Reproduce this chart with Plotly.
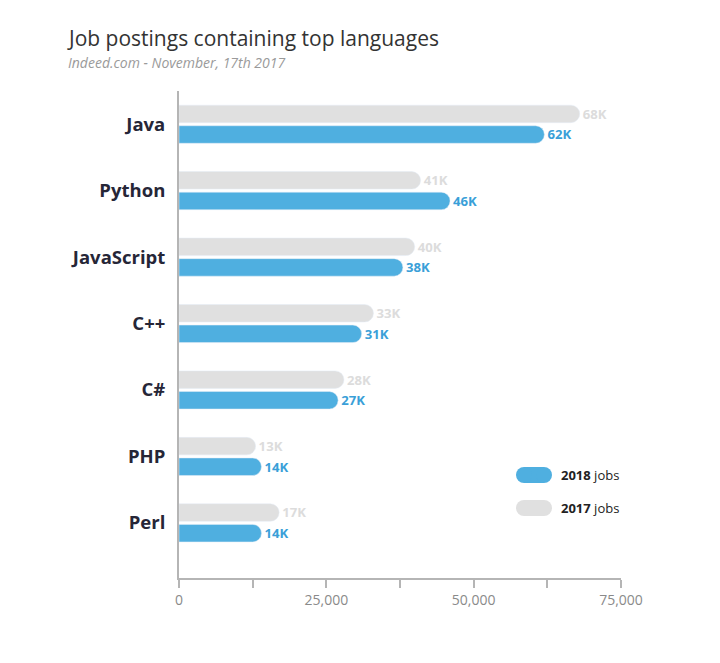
import plotly.graph_objects as go

languages = ["Java", "Python", "JavaScript", "C++", "C#", "PHP", "Perl"]
jobs_2017 = [68000, 41000, 40000, 33000, 28000, 13000, 17000]
jobs_2018 = [62000, 46000, 38000, 31000, 27000, 14000, 14000]
labels_2017 = ["68K", "41K", "40K", "33K", "28K", "13K", "17K"]
labels_2018 = ["62K", "46K", "38K", "31K", "27K", "14K", "14K"]
tick_vals = [0, 12500, 25000, 37500, 50000, 62500, 75000]
tick_text = ["0", "", "25,000", "", "50,000", "", "75,000"]

BLUE = "#4fafe0"
GRAY = "#e0e0e0"
FONT = "Open Sans"

# page body has an 8px offset; plot area in reference: x 179..621, y 91..578
OFF = 8
L, R, T, B = 179 - OFF, 621 - OFF, 91 - OFF, 578 - OFF
PW, PH = R - L, B - T


def px(x):
    return (x - OFF - L) / PW


def py(y):
    return 1 - (y - OFF - T) / PH


fig = go.Figure()
fig.add_trace(go.Bar(
    y=languages, x=jobs_2017, orientation="h", name="2017 jobs",
    marker=dict(color=GRAY), text=labels_2017, textposition="outside",
    texttemplate="<b>%{text}</b>",
    textfont=dict(color="#dcdcdc", size=13.5, family=FONT), cliponaxis=False,
))
fig.add_trace(go.Bar(
    y=languages, x=jobs_2018, orientation="h", name="2018 jobs",
    marker=dict(color=BLUE), text=labels_2018, textposition="outside",
    texttemplate="<b>%{text}</b>",
    textfont=dict(color="#3a9fd8", size=13.5, family=FONT), cliponaxis=False,
))

fig.update_layout(
    width=720, height=663,
    margin=dict(l=L, r=720 - R, t=T, b=663 - B),
    paper_bgcolor="white", plot_bgcolor="white",
    barmode="group", bargap=0.38, bargroupgap=0.15, barcornerradius=9,
    showlegend=False,
    font=dict(family=FONT),
    xaxis=dict(
        range=[0, 75000], tickvals=tick_vals, ticktext=tick_text,
        showgrid=False, zeroline=False, showline=True, linecolor="#b5b5b5", linewidth=1.5,
        ticks="outside", ticklen=8, tickcolor="#b5b5b5", tickwidth=1.5,
        tickfont=dict(color="#8a8a8a", size=14, family=FONT),
    ),
    yaxis=dict(
        categoryorder="array", categoryarray=languages,
        range=[6.83, -0.5],
        showgrid=False, zeroline=False, showline=True, linecolor="#b5b5b5", linewidth=2,
        ticks="", ticklabelstandoff=8,
        tickfont=dict(color="#262637", size=18.5, family=FONT, weight="bold"),
    ),
)

fig.add_annotation(text="Job postings containing top languages", xref="paper", yref="paper",
                   x=px(65), y=py(38), xanchor="left", yanchor="middle",
                   showarrow=False, font=dict(size=21, color="#333333", family=FONT))
fig.add_annotation(text="<i>Indeed.com - November, 17th 2017</i>", xref="paper", yref="paper",
                   x=px(66), y=py(62), xanchor="left", yanchor="middle",
                   showarrow=False, font=dict(size=14, color="#9a9a9a", family=FONT))

# custom legend (rounded pills)
for ypix, col, year in [(475, BLUE, "2018"), (508, GRAY, "2017")]:
    y0, y1 = py(ypix + 8), py(ypix - 8)
    fig.add_shape(type="rect", xref="paper", yref="paper",
                  x0=px(524), x1=px(544), y0=y0, y1=y1,
                  fillcolor=col, line=dict(width=0))
    for cx in (524, 544):
        fig.add_shape(type="circle", xref="paper", yref="paper",
                      x0=px(cx - 8), x1=px(cx + 8), y0=y0, y1=y1,
                      fillcolor=col, line=dict(width=0))
    fig.add_annotation(text=f"<b>{year}</b> jobs", xref="paper", yref="paper",
                       x=px(559), y=py(ypix), xanchor="left", yanchor="middle",
                       showarrow=False, font=dict(size=13, color="#222222", family=FONT))

fig.write_html("out.html")
